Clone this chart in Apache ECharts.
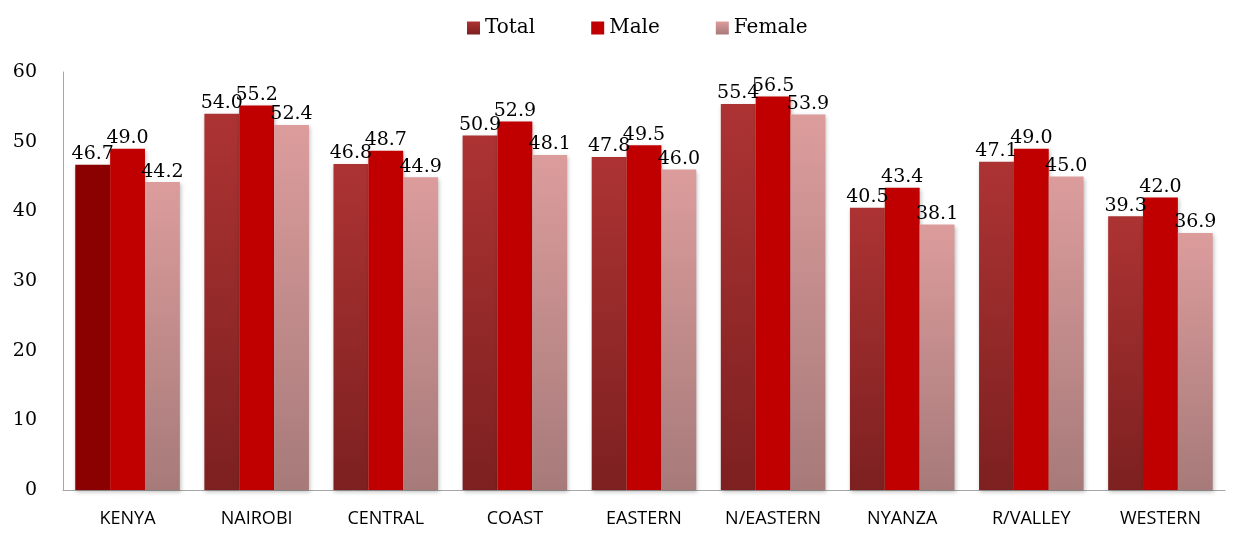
<!DOCTYPE html>
<html><head><meta charset="utf-8">
<script src="https://cdn.jsdelivr.net/npm/echarts@6/dist/echarts.min.js"></script>
<style>html,body{margin:0;padding:0;background:#fff}#c{width:1234px;height:533px}</style>
</head><body><div id="c"></div>
<script>
const categories = ['KENYA','NAIROBI','CENTRAL','COAST','EASTERN','N/EASTERN','NYANZA','R/VALLEY','WESTERN'];
const totalValues = [46.7, 54.0, 46.8, 50.9, 47.8, 55.4, 40.5, 47.1, 39.3];
const maleValues = [49.0, 55.2, 48.7, 52.9, 49.5, 56.5, 43.4, 49.0, 42.0];
const femaleValues = [44.2, 52.4, 44.9, 48.1, 46.0, 53.9, 38.1, 45.0, 36.9];
const seriesNames = ['Total','Male','Female'];

const grad = (a,b)=>new echarts.graphic.LinearGradient(0,0,0,1,[{offset:0,color:a},{offset:1,color:b}]);
const totalGrad = grad('#ad3333','#7d2020');
const femaleGrad = grad('#dc9c9c','#a77a7a');
const serif = '"DejaVu Serif","Liberation Serif",serif';
const shadow = {shadowColor:'rgba(0,0,0,0.25)',shadowBlur:4,shadowOffsetX:1,shadowOffsetY:2};
const label = {show:true,position:'top',distance:1,fontFamily:serif,fontSize:19,color:'#000',formatter:p=>p.value.toFixed(1)};

const chart = echarts.init(document.getElementById('c'));
chart.setOption({
  animation:false,
  legend:{top:13,left:462,itemWidth:13,itemHeight:13,itemGap:56,icon:'rect',
    textStyle:{fontFamily:serif,fontSize:20,color:'#000'},data:seriesNames},
  grid:{left:63,right:9,top:72,bottom:43,containLabel:false},
  xAxis:{type:'category',data:categories,
    axisLine:{lineStyle:{color:'#a6a6a6'}},axisTick:{show:false},
    axisLabel:{interval:0,fontFamily:'"Open Sans",Lato,sans-serif',fontSize:18,color:'#000',margin:20}},
  yAxis:{type:'value',min:0,max:60,interval:10,
    axisLine:{show:true,lineStyle:{color:'#a6a6a6'}},axisTick:{show:false},splitLine:{show:false},
    axisLabel:{fontFamily:serif,fontSize:19,color:'#000',margin:26}},
  series:[
    {name:seriesNames[0],type:'bar',barCategoryGap:'19%',barGap:'0%',
     itemStyle:Object.assign({color:totalGrad},shadow),label:label,
     data:totalValues.map((v,i)=>i===0?{value:v,itemStyle:{color:'#8b0000'}}:v)},
    {name:seriesNames[1],type:'bar',barGap:'0%',itemStyle:Object.assign({color:'#c00000'},shadow),label:label,data:maleValues},
    {name:seriesNames[2],type:'bar',barGap:'0%',itemStyle:Object.assign({color:femaleGrad},shadow),label:label,data:femaleValues}
  ]
});
</script></body></html>
